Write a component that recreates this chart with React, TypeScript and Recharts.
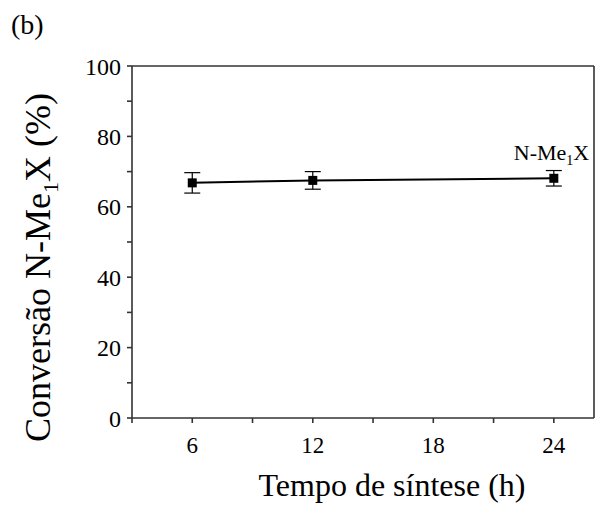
import React from 'react';
import { LineChart, Line, XAxis, YAxis, ErrorBar, LabelList, ReferenceLine } from 'recharts';

const times = [6, 12, 24];
const conversion = [66.8, 67.5, 68.1];
const errors = [2.9, 2.5, 2.2];
const xTicks = [3, 6, 9, 12, 15, 18, 21, 24];
const xLabeled = [6, 12, 18, 24];
const yTicks = [0, 10, 20, 30, 40, 50, 60, 70, 80, 90, 100];
const yLabeled = [0, 20, 40, 60, 80, 100];
const xMax = 26;
const yMax = 100;

const data = times.map((t, i) => ({ t, v: conversion[i], err: errors[i] }));

const FONT = 'Liberation Serif';
const AX = '#333';

const Square = (props: any) => {
  const { cx, cy, index } = props;
  if (cx == null || cy == null) return null;
  return <rect key={`sq-${index}`} x={cx - 4.5} y={cy - 4.5} width={9} height={9} fill="#000" />;
};

const XTick = (props: any) => {
  const { x, y, payload } = props;
  if (!xLabeled.includes(payload.value)) return null;
  return (
    <text x={x} y={y} dy="0.71em" textAnchor="middle" fontFamily={FONT} fontSize={23} fill="#000">
      {payload.value}
    </text>
  );
};

const YTick = (props: any) => {
  const { x, y, payload } = props;
  if (!yLabeled.includes(payload.value)) return null;
  return (
    <text x={x} y={y} dy="0.355em" textAnchor="end" fontFamily={FONT} fontSize={24} fill="#000">
      {payload.value}
    </text>
  );
};

const SeriesLabel = (props: any) => {
  const { x, y, index } = props;
  if (index !== data.length - 1) return null;
  return (
    <text x={x - 40} y={y - 18} fontFamily={FONT} fontSize={22} fill="#000">
      N-Me<tspan dy={5} fontSize={14}>1</tspan><tspan dy={-5}>X</tspan>
    </text>
  );
};

const YTitle = () => {
  const cx = 50;
  const cy = 442;
  return (
    <text x={cx} y={cy} transform={`rotate(-90, ${cx}, ${cy})`} textAnchor="start" fontFamily={FONT} fontSize={36} fill="#000">
      Conversão N-Me<tspan dy={8} fontSize={22}>1</tspan><tspan dy={-8}>X (%)</tspan>
    </text>
  );
};

const XTitle = () => (
  <text x={392} y={496} textAnchor="middle" fontFamily={FONT} fontSize={32} fill="#000">
    Tempo de síntese (h)
  </text>
);

export default function App() {
  return (
    <div style={{ position: 'absolute', left: 0, top: 0, width: 606, height: 506, background: '#fff', fontFamily: FONT }}>
      <div style={{ position: 'absolute', left: 11, top: 11, fontFamily: FONT, fontSize: 28, color: '#000', lineHeight: 1 }}>(b)</div>
      <LineChart width={606} height={506} data={data} margin={{ top: 66, right: 12, left: 92, bottom: 48 }} style={{ fontFamily: FONT }}>
        <XAxis
          dataKey="t"
          type="number"
          domain={[3, xMax]}
          ticks={xTicks}
          height={40}
          tickSize={5}
          tickMargin={14}
          stroke={AX}
          strokeWidth={1.6}
          tick={XTick}
          label={{ content: XTitle }}
        />
        <XAxis
          xAxisId="top"
          dataKey="t"
          type="number"
          orientation="top"
          mirror
          domain={[3, xMax]}
          ticks={xTicks}
          tick={false}
          height={1}
          tickSize={4}
          axisLine={false}
          stroke={AX}
          strokeWidth={1.2}
        />
        <YAxis
          type="number"
          domain={[0, yMax]}
          ticks={yTicks}
          width={40}
          tickSize={5}
          tickMargin={6}
          stroke={AX}
          strokeWidth={1.6}
          tick={YTick}
          label={{ content: YTitle }}
        />
        <YAxis
          yAxisId="right"
          type="number"
          orientation="right"
          mirror
          domain={[0, yMax]}
          ticks={yTicks}
          tick={false}
          width={1}
          tickSize={4}
          axisLine={false}
          stroke={AX}
          strokeWidth={1.2}
        />
        <ReferenceLine y={yMax} stroke={AX} strokeWidth={1.6} ifOverflow="extendDomain" />
        <ReferenceLine x={xMax} stroke={AX} strokeWidth={1.6} ifOverflow="extendDomain" />
        <Line
          dataKey="v"
          stroke="#000"
          strokeWidth={2}
          isAnimationActive={false}
          dot={Square}
          activeDot={false}
        >
          <ErrorBar dataKey="err" width={8} stroke="#000" strokeWidth={1.2} direction="y" />
          <LabelList dataKey="v" content={SeriesLabel} />
        </Line>
      </LineChart>
    </div>
  );
}
